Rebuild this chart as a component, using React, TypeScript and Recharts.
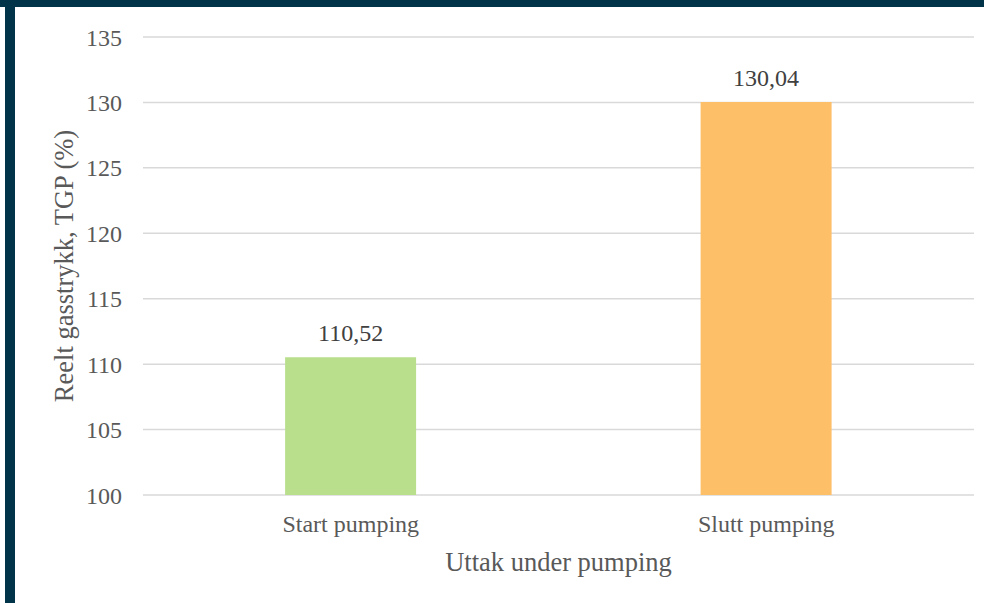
import React from 'react';
import { BarChart, Bar, XAxis, YAxis, CartesianGrid, Cell, LabelList, Label } from 'recharts';

const categories = ['Start pumping', 'Slutt pumping'];
const tgpValues = [110.52, 130.04];
const barColors = ['#B9DF8D', '#FDC068'];
const yTicks = [100, 105, 110, 115, 120, 125, 130, 135];

const chartData = categories.map((name, i) => ({ name, tgp: tgpValues[i] }));

const FONT = '"Liberation Serif", "Times New Roman", serif';

const formatComma = (v: number) => v.toFixed(2).replace('.', ',');

const YTitle = (props: any) => {
  const { viewBox } = props;
  const x = viewBox.x + 73;
  const y = viewBox.y + viewBox.height / 2;
  return (
    <text
      x={x}
      y={y}
      transform={`rotate(-90, ${x}, ${y})`}
      textAnchor="middle"
      fill="#595959"
      fontSize={26.5}
      fontFamily={FONT}
    >
      Reelt gasstrykk, TGP (%)
    </text>
  );
};

const App: React.FC = () => {
  return (
    <div
      style={{
        position: 'absolute',
        left: 0,
        top: 0,
        width: 984,
        height: 603,
        background: '#ffffff',
        overflow: 'hidden',
      }}
    >
      <div style={{ position: 'absolute', left: 0, top: 0, width: 984, height: 7, background: '#023449' }} />
      <div style={{ position: 'absolute', left: 5, top: 0, width: 10, height: 603, background: '#023449' }} />
      <div style={{ position: 'absolute', left: 0, top: 0 }}>
        <BarChart
          width={984}
          height={603}
          data={chartData}
          margin={{ top: 37, right: 10, left: 0, bottom: 0 }}
          barCategoryGap="34.2%"
          style={{ fontFamily: FONT }}
        >
          <CartesianGrid vertical={false} stroke="#d9d9d9" strokeWidth={1.5} />
          <XAxis
            dataKey="name"
            height={108}
            axisLine={false}
            tickLine={false}
            tickMargin={14}
            tick={{ fill: '#595959', fontSize: 24, fontFamily: FONT }}
          >
            <Label
              value="Uttak under pumping"
              position="insideBottom"
              offset={32}
              fill="#595959"
              fontSize={26.5}
              fontFamily={FONT}
            />
          </XAxis>
          <YAxis
            width={143}
            domain={[100, 135]}
            ticks={yTicks}
            interval={0}
            allowDataOverflow
            axisLine={false}
            tickLine={false}
            tickMargin={15}
            tick={{ fill: '#595959', fontSize: 24, fontFamily: FONT }}
          >
            <Label content={<YTitle />} />
          </YAxis>
          <Bar dataKey="tgp" isAnimationActive={false}>
            {chartData.map((d, i) => (
              <Cell key={d.name} fill={barColors[i]} />
            ))}
            <LabelList
              dataKey="tgp"
              position="top"
              offset={16}
              formatter={(v: any) => formatComma(Number(v))}
              fill="#404040"
              fontSize={24}
              fontFamily={FONT}
            />
          </Bar>
        </BarChart>
      </div>
    </div>
  );
};

export default App;
